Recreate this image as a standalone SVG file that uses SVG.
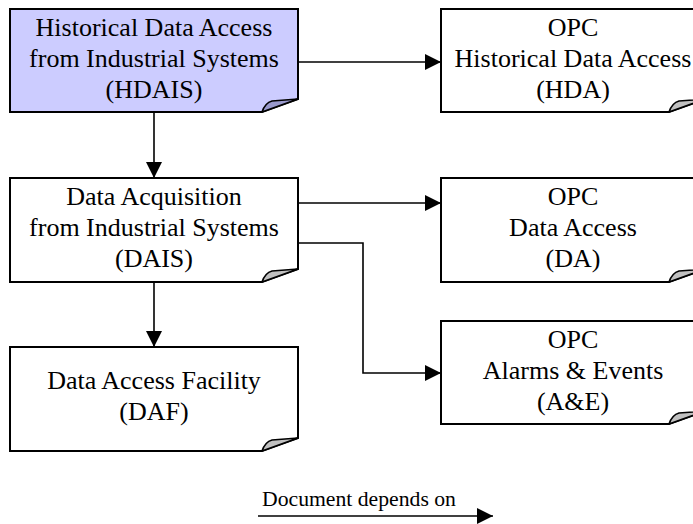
<svg xmlns="http://www.w3.org/2000/svg" width="693" height="524" viewBox="0 0 693 524">
<style>
.box{fill:#ffffff;stroke:#000;stroke-width:2;stroke-linejoin:miter}
.hl{fill:#ccccff}
.flap{fill:#c0c0c0;stroke:#000;stroke-width:1.5;stroke-linejoin:round}
.flap.hlf{fill:#9999cc}
.t{font-family:"Liberation Serif","Times New Roman",serif;font-size:26px;fill:#000;text-anchor:middle}
.lg{font-family:"Liberation Serif","Times New Roman",serif;font-size:21.7px;fill:#000}
.c{fill:none;stroke:#000;stroke-width:1.6}
</style>
<defs>
<marker id="ah" markerUnits="userSpaceOnUse" markerWidth="17" markerHeight="17" refX="16" refY="8" orient="auto">
<path d="M0,0 L16,8 L0,16 Z" fill="#000"/>
</marker>
</defs>
<g id="connectors">
<path class="c" d="M298,62 H441" marker-end="url(#ah)"/>
<path class="c" d="M154,112 V178" marker-end="url(#ah)"/>
<path class="c" d="M298,203 H441" marker-end="url(#ah)"/>
<path class="c" d="M298,243 H363 V373 H441" marker-end="url(#ah)"/>
<path class="c" d="M154,282 V347" marker-end="url(#ah)"/>
</g>
<g id="hdais">
<path class="box hl" d="M10,9 H298 V99 L262,112 H10 Z"/>
<path class="flap hlf" d="M262,112 Q265,103 272,101 L298,99 Z"/>
<text class="t" x="154" y="36">Historical Data Access</text>
<text class="t" x="154" y="67">from Industrial Systems</text>
<text class="t" x="154" y="98">(HDAIS)</text>
</g>
<g id="hda">
<path class="box" d="M441,9 H705 V99 L669,112 H441 Z"/>
<path class="flap" d="M669,112 Q672,103 679,101 L705,99 Z"/>
<text class="t" x="573" y="36">OPC</text>
<text class="t" x="573" y="67">Historical Data Access</text>
<text class="t" x="573" y="98">(HDA)</text>
</g>
<g id="dais">
<path class="box" d="M10,178 H298 V269 L262,282 H10 Z"/>
<path class="flap" d="M262,282 Q265,273 272,271 L298,269 Z"/>
<text class="t" x="154" y="205">Data Acquisition</text>
<text class="t" x="154" y="236">from Industrial Systems</text>
<text class="t" x="154" y="267">(DAIS)</text>
</g>
<g id="da">
<path class="box" d="M441,178 H705 V269 L669,282 H441 Z"/>
<path class="flap" d="M669,282 Q672,273 679,271 L705,269 Z"/>
<text class="t" x="573" y="205">OPC</text>
<text class="t" x="573" y="236">Data Access</text>
<text class="t" x="573" y="267">(DA)</text>
</g>
<g id="daf">
<path class="box" d="M10,347 H298 V438 L262,451 H10 Z"/>
<path class="flap" d="M262,451 Q265,442 272,440 L298,438 Z"/>
<text class="t" x="154" y="389">Data Access Facility</text>
<text class="t" x="154" y="420">(DAF)</text>
</g>
<g id="ae">
<path class="box" d="M441,321 H705 V411 L669,424 H441 Z"/>
<path class="flap" d="M669,424 Q672,415 679,413 L705,411 Z"/>
<text class="t" x="573" y="348">OPC</text>
<text class="t" x="573" y="379">Alarms &amp; Events</text>
<text class="t" x="573" y="410">(A&amp;E)</text>
</g>
<g id="legend">
<text class="lg" x="262" y="506">Document depends on</text>
<path class="c" d="M258,516 H493" marker-end="url(#ah)"/>
</g>
</svg>
